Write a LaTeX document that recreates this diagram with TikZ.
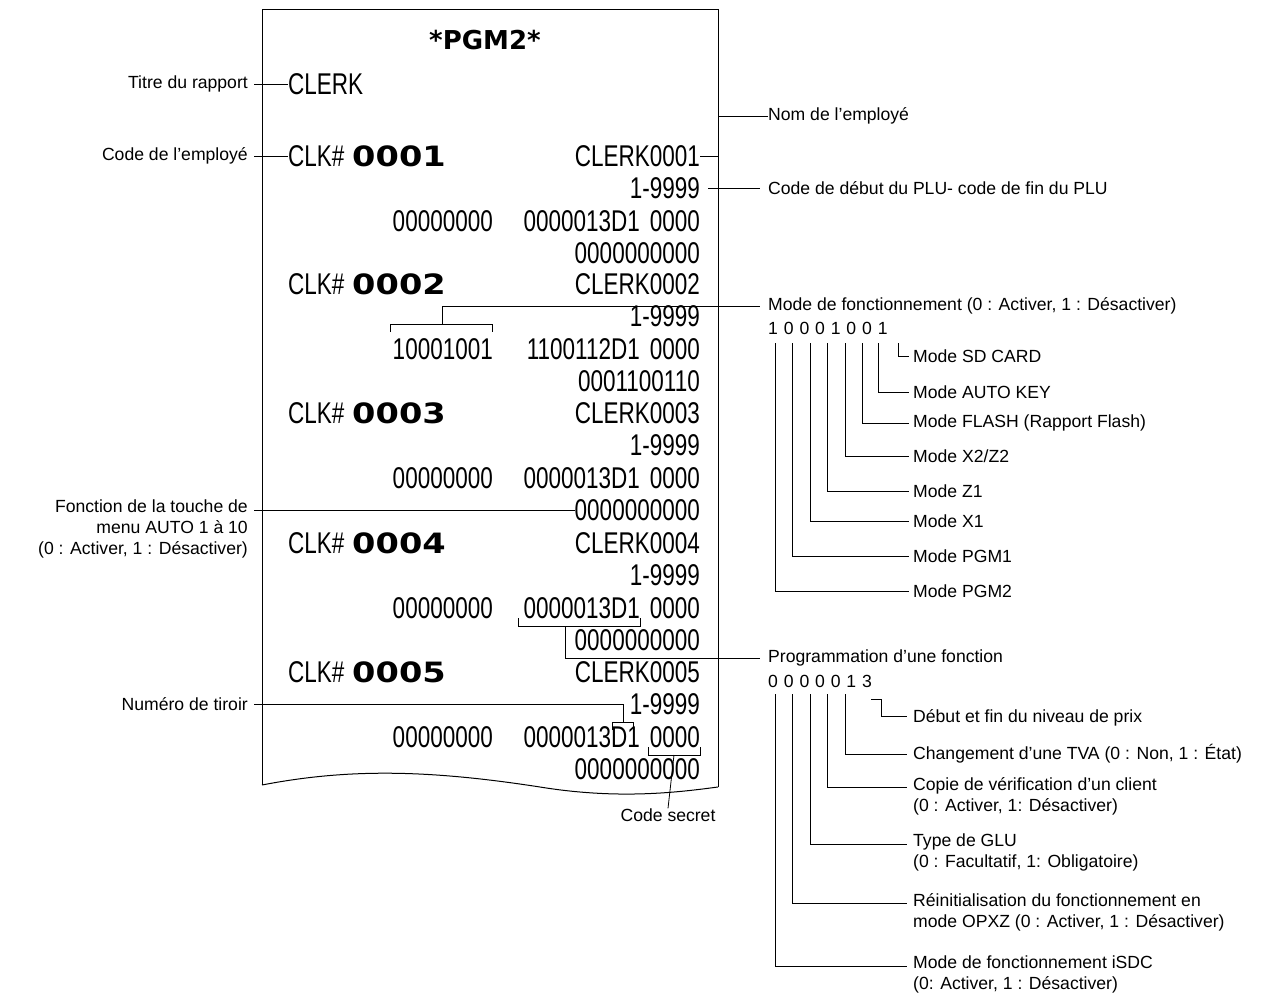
\documentclass[tikz,border=0pt]{standalone}
\usepackage{fontspec}
\usetikzlibrary{calc}
\setmainfont{Liberation Sans}
\newfontfamily\rcfam{Liberation Sans}
\newfontfamily\bdfam{DejaVu Sans}
\begin{document}
\begin{tikzpicture}[x=1pt,y=-1pt,
 lbl/.style={font=\fontsize{17.6}{21}\selectfont,inner sep=0},
 rc/.style={font=\fontsize{30}{30}\selectfont\rcfam,inner sep=0,anchor=east,xscale=0.75,transform shape},
 bd/.style={font=\fontsize{28}{28}\selectfont\bdfam\bfseries,inner sep=0,anchor=west,xscale=1.2,transform shape},
 ln/.style={line width=0.8pt}]
\useasboundingbox (0,0) rectangle (1282,1003);
% receipt outline
\draw[line width=1pt] (262,785) -- (262,10) -- (718,10) -- (718,787);
\draw[line width=1pt] (262,785) .. controls (350,768) and (430,770) .. (540,787) .. controls (620,800) and (680,792) .. (718,787);
\node[font=\fontsize{26}{26}\selectfont\bdfam\bfseries,inner sep=0] (t) at (485,40) {*PGM2*};
\node[rc,anchor=west] (clerk) at (288,84) {CLERK};
% clerk blocks
\foreach \i/\y/\a/\b/\c in {1/156/00000000/0000013D1/0000000000,2/284/10001001/1100112D1/0001100110,3/413/00000000/0000013D1/0000000000,4/543/00000000/0000013D1/0000000000,5/672/00000000/0000013D1/0000000000}{
 \node[rc,anchor=west] (ck\i) at (288,\y) {CLK\#};
 \node[bd] (cn\i) at (352,\y) {000\i};
 \node[rc] (cl\i) at (700,\y) {CLERK000\i};
 \node[rc] (pl\i) at (700,\y+32) {1-9999};
 \node[rc] (aa\i) at (493,\y+65) {\a};
 \node[rc] (bb\i) at (640,\y+65) {\b};
 \node[rc] (cc\i) at (700,\y+65) {0000};
 \node[rc] (dd\i) at (700,\y+97) {\c};
}
% left labels
\node[lbl,anchor=east] (l1) at (248,84) {Titre du rapport};
\node[lbl,anchor=east] (l2) at (248,156) {Code de l'employé};
\node[lbl,anchor=north east,align=right] (l3) at (248,500) {Fonction de la touche de\\menu AUTO 1 à 10\\(0 : Activer, 1 : Désactiver)};
\node[lbl,anchor=east] (l4) at (248,704) {Numéro de tiroir};
\draw[ln] (254,84) -- (clerk.west);
\draw[ln] (254,156) -- (ck1.west);
\draw[ln] (254,510) -- (dd3.west);
\draw[ln] (254,704) -- (623,704) -- (623,722);
\draw[ln] (612,730) -- (612,722) -- (633,722) -- (633,730);
% right labels
\node[lbl,anchor=west] (r1) at (768,116) {Nom de l'employé};
\node[lbl,anchor=west] (r2) at (768,188) {Code de début du PLU- code de fin du PLU};
\draw[ln] (cl1.east) -- (718,156) -- (718,116) -- (r1.west);
\draw[ln] (708,188) -- (760,188);
\node[lbl,anchor=west] (r3) at (768,306) {Mode de fonctionnement (0 : Activer, 1 : Désactiver)};
\draw[ln] (390,332) -- (390,324) -- (492,324) -- (492,332);
\draw[ln] (442,324) -- (442,306) -- (760,306);
\node[lbl,anchor=west] (r3d) at (768,328) {1\,\,0\,\,0\,\,0\,\,1\,\,0\,\,0\,\,1};
\foreach \x/\y/\t in {898/356/{Mode SD CARD},878/392/{Mode AUTO KEY},862/423/{Mode FLASH (Rapport Flash)},845/456/{Mode X2/Z2},827/491/{Mode Z1},810/521/{Mode X1},792/556/{Mode PGM1},775/591/{Mode PGM2}}{
 \node[lbl,anchor=west] (m\x) at (913,\y) {\t};
 \draw[ln] (\x,343) |- ($(m\x.west)+(-4,0)$);
}
% programmation
\node[lbl,anchor=west] (r4) at (768,658) {Programmation d'une fonction};
\draw[ln] (518,618) -- (518,626) -- (640,626) -- (640,618);
\draw[ln] (565,626) -- (565,658) -- (760,658);
\node[lbl,anchor=west] (r4d) at (768,681) {0\,\,0\,\,0\,\,0\,\,0\,\,1\,\,3};
\node[lbl,anchor=west] (p1) at (913,718) {Début et fin du niveau de prix};
\draw[ln] (871,699) -| (881,716) -- (907,716);
\foreach \x/\y/\t in {845/754/{Changement d'une TVA (0 : Non, 1 : État)},827/787/{Copie de vérification d'un client\\(0 : Activer, 1: Désactiver)},810/844/{Type de GLU\\(0 : Facultatif, 1: Obligatoire)},792/903/{Réinitialisation du fonctionnement en\\mode OPXZ (0 : Activer, 1 : Désactiver)},775/966/{Mode de fonctionnement iSDC\\(0: Activer, 1 : Désactiver)}}{
 \node[lbl,anchor=north west,align=left] (q\x) at (913,\y-10) {\t};
 \draw[ln] (\x,694) |- (907,\y);
}
% code secret
\draw[ln] (648,747) -- (648,755) -- (700,755) -- (700,747);
\node[lbl] (cs) at (668,815) {Code secret};
\draw[ln] (674,755) -- (cs.north);
\end{tikzpicture}
\end{document}
